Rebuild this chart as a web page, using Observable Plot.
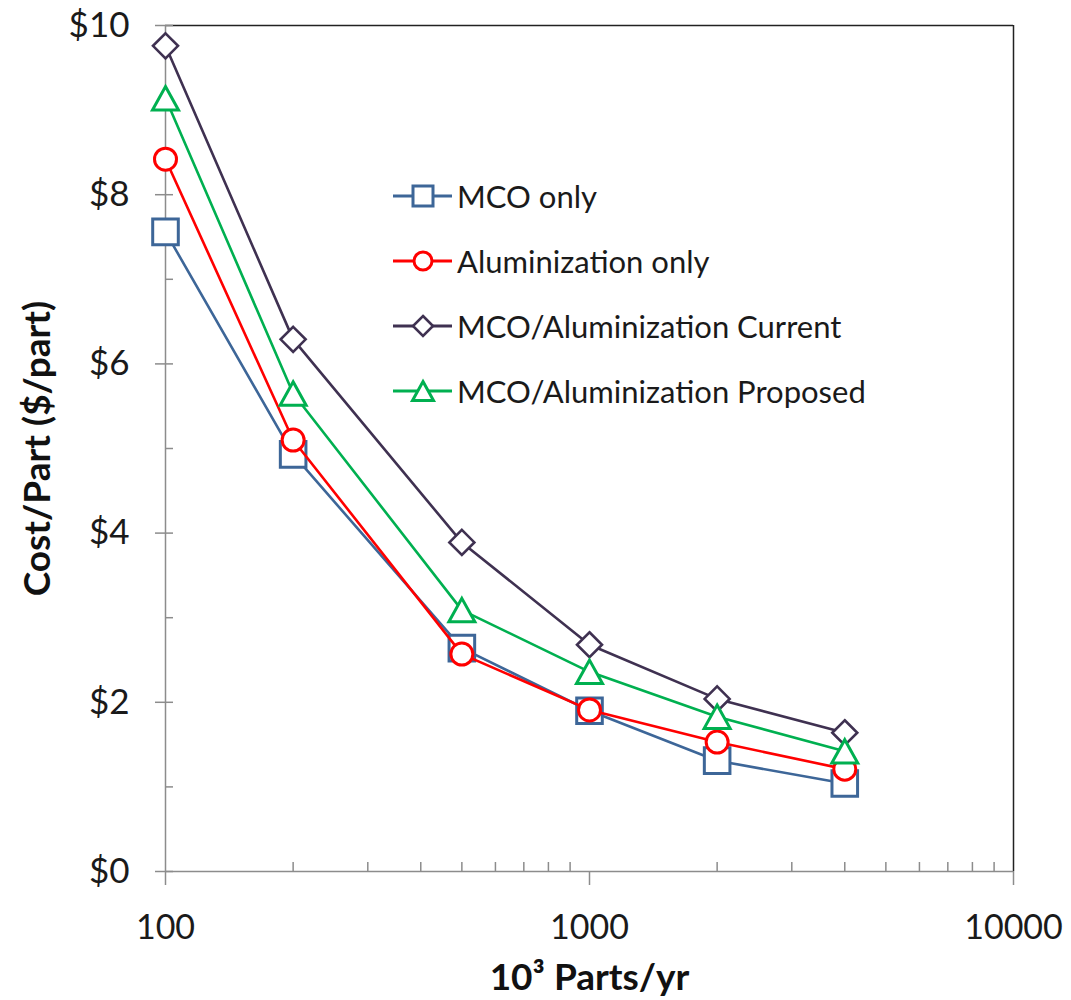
<!DOCTYPE html>
<html>
<head>
<meta charset="utf-8">
<script src="https://cdn.jsdelivr.net/npm/d3@7"></script>
<script src="https://cdn.jsdelivr.net/npm/@observablehq/plot@0.6"></script>
<style>
  html, body { margin: 0; padding: 0; background: #fff; }
  #wrap { position: relative; width: 1071px; height: 1000px; font-family: Lato, "Open Sans", sans-serif; }
  #legend { position: absolute; left: 391px; top: 163px; }
  .row { display: flex; align-items: center; height: 65px; }
  .row span { font-size: 31px; color: #1a1a1a; margin-left: 4px; white-space: nowrap; }
</style>
</head>
<body>
<div id="wrap"><div id="legend"></div></div>
<script>
// ---- data ----
const parts = [100, 200, 500, 1000, 2000, 4000];
const mcoOnly = [7.56, 4.93, 2.64, 1.90, 1.31, 1.04];
const aluminizationOnly = [8.42, 5.10, 2.57, 1.91, 1.53, 1.21];
const mcoAlumCurrent = [9.76, 6.29, 3.89, 2.68, 2.04, 1.64];
const mcoAlumProposed = [9.14, 5.65, 3.09, 2.36, 1.83, 1.42];
const seriesNames = ["MCO only", "Aluminization only", "MCO/Aluminization Current", "MCO/Aluminization Proposed"];
const yMajorTicks = [0, 2, 4, 6, 8, 10];
const yMinorTicks = [1, 3, 5, 7, 9];
const xMajorTicks = [100, 1000, 10000];
const xMinorTicks = [200, 300, 400, 500, 600, 700, 800, 900, 2000, 3000, 4000, 5000, 6000, 7000, 8000, 9000];

// ---- symbols (size = PI r^2) ----
const rOf = s => Math.sqrt(s / Math.PI);
const symSquare = {draw(c, s) { const r = rOf(s); c.rect(-r, -r, 2 * r, 2 * r); }};
const symCircle = {draw(c, s) { const r = rOf(s); c.moveTo(r, 0); c.arc(0, 0, r, 0, 2 * Math.PI); }};
const symDiamond = {draw(c, s) { const r = rOf(s); c.moveTo(0, -r); c.lineTo(r, 0); c.lineTo(0, r); c.lineTo(-r, 0); c.closePath(); }};
const symTriangle = {draw(c, s) { const r = rOf(s); const h = r * 0.9; c.moveTo(0, -h); c.lineTo(r, h); c.lineTo(-r, h); c.closePath(); }};

const styles = [
  {name: seriesNames[0], values: mcoOnly, color: "#3D6698", symbol: symSquare, r: 12.8, sw: 3, lr: 10},
  {name: seriesNames[1], values: aluminizationOnly, color: "#FF0000", symbol: symCircle, r: 11, sw: 3, lr: 9},
  {name: seriesNames[2], values: mcoAlumCurrent, color: "#3F3151", symbol: symDiamond, r: 12.5, sw: 2.6, lr: 10},
  {name: seriesNames[3], values: mcoAlumProposed, color: "#00B050", symbol: symTriangle, r: 13, sw: 3, lr: 10.5}
];

const data = styles.map(s => parts.map((p, i) => ({series: s.name, x: p, y: s.values[i]})));

const axisColor = "#8c8c8c";
const font = "Lato, 'Open Sans', sans-serif";

const seriesMarks = styles.flatMap((s, k) => [
  Plot.line(data[k], {x: "x", y: "y", stroke: s.color, strokeWidth: 2.6}),
  Plot.dot(data[k], {x: "x", y: "y", stroke: s.color, fill: "white", strokeWidth: s.sw, symbol: s.symbol, r: s.r})
]);

const chart = Plot.plot({
  width: 1071,
  height: 1000,
  marginTop: 25,
  marginRight: 58,
  marginBottom: 129,
  marginLeft: 165,
  style: {fontFamily: font, background: "white", color: "#1a1a1a"},
  x: {type: "log", domain: [100, 10000]},
  y: {domain: [0, 10]},
  marks: [
    // frame
    Plot.ruleY([10], {stroke: "#222", strokeWidth: 1.5}),
    Plot.ruleX([10000], {stroke: "#222", strokeWidth: 1.5}),
    // y axis
    Plot.axisY({ticks: yMajorTicks, tickSize: 18, dx: 8, tickFormat: () => "", label: null, stroke: axisColor, strokeWidth: 1.5}),
    Plot.axisY({ticks: yMinorTicks, tickSize: 8, dx: 8, tickFormat: () => "", label: null, stroke: axisColor, strokeWidth: 1.5}),
    Plot.axisY({ticks: yMajorTicks, tickSize: 0, tickPadding: 36, tickFormat: d => "$" + d, label: null, fontSize: 35, fill: "#1a1a1a"}),
    // x axis
    Plot.axisX({ticks: xMajorTicks, tickSize: 14, tickPadding: 29, tickFormat: d => String(d), label: null, fontSize: 34, stroke: axisColor, strokeWidth: 1.5, fill: "#1a1a1a"}),
    Plot.axisX({ticks: xMinorTicks, tickSize: 9, dy: -9, tickFormat: () => "", label: null, stroke: axisColor, strokeWidth: 1.5}),
    Plot.ruleX([100], {stroke: axisColor, strokeWidth: 1.5}),
    Plot.ruleY([0], {stroke: axisColor, strokeWidth: 1.5}),
    // axis titles
    Plot.text(["Cost/Part ($/part)"], {frameAnchor: "left", dx: -127, rotate: -90, fontSize: 37, fontWeight: "bold", fill: "#111", textAnchor: "middle"}),
    Plot.text(["10³ Parts/yr"], {frameAnchor: "bottom", dy: 107, fontSize: 37, fontWeight: "bold", fill: "#111", textAnchor: "middle", lineAnchor: "middle"}),
    ...seriesMarks
  ]
});

const wrap = document.getElementById("wrap");
wrap.insertBefore(chart, wrap.firstChild);

// legend
const legend = d3.select("#legend");
styles.forEach(s => {
  const row = legend.append("div").attr("class", "row");
  const svg = row.append("svg").attr("width", 62).attr("height", 30);
  svg.append("line").attr("x1", 2).attr("x2", 61).attr("y1", 15).attr("y2", 15)
    .attr("stroke", s.color).attr("stroke-width", 3);
  svg.append("path").attr("transform", "translate(32,15)")
    .attr("d", d3.symbol(s.symbol, Math.PI * s.lr * s.lr)())
    .attr("fill", "white").attr("stroke", s.color).attr("stroke-width", s.sw);
  row.append("span").text(s.name);
});
</script>
</body>
</html>
